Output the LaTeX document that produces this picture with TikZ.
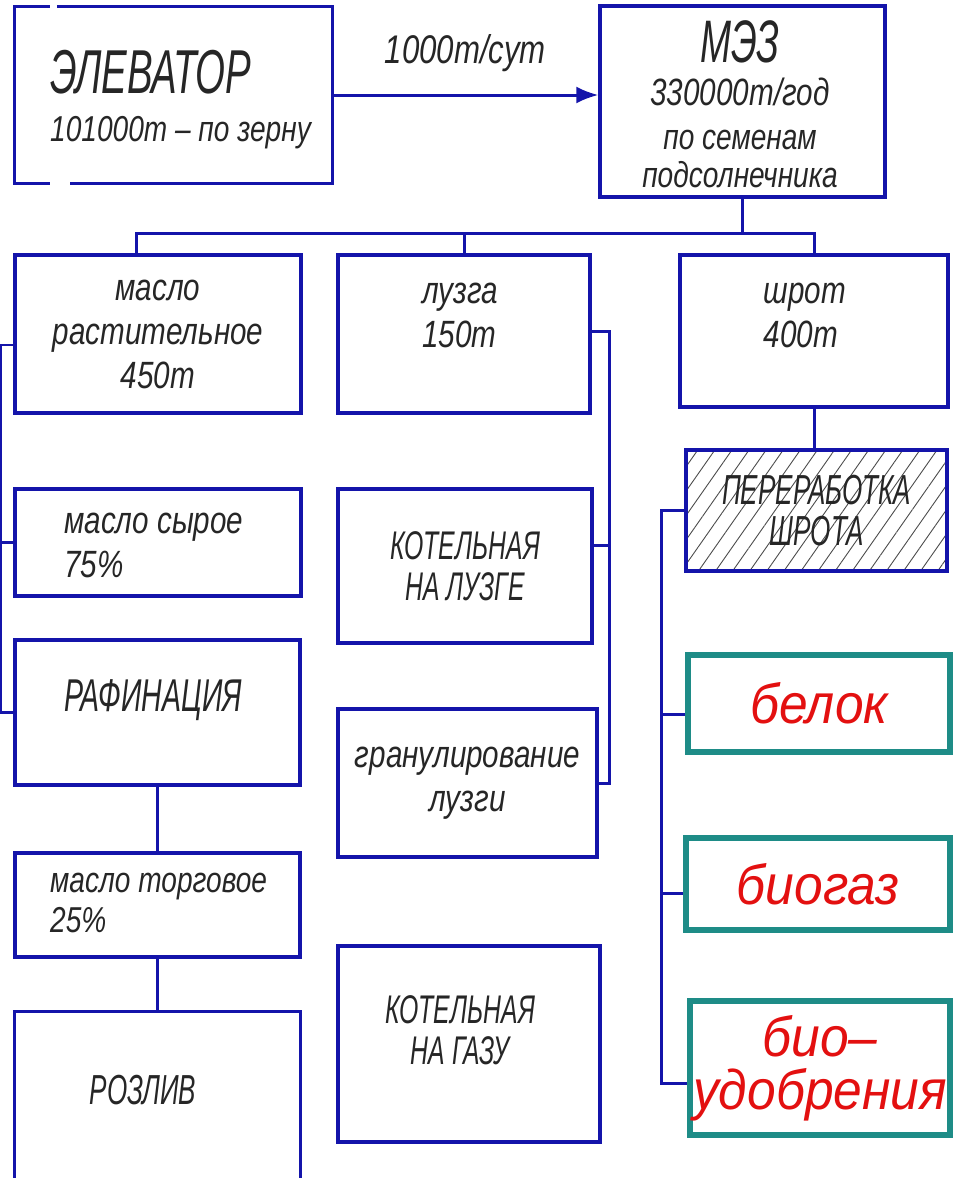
\documentclass[tikz,border=0pt]{standalone}
\usepackage{fontspec}
\usepackage{xcolor}
\usepackage{tikz}
\usetikzlibrary{positioning, arrows.meta, calc, patterns.meta}
\newfontfamily\bodyfam{Liberation Sans}[FakeStretch=0.78]
\newfontfamily\capsfam{Liberation Sans}[FakeStretch=0.62]
\newfontfamily\goalfam{Liberation Sans}[FakeStretch=0.92]
\newcommand\plainfont{\bodyfam\itshape\fontsize{38}{44}\selectfont}
\newcommand\capsfont[2]{\capsfam\itshape\fontsize{#1}{#2}\selectfont}
\newcommand\goalfont{\goalfam\itshape\fontsize{56}{53}\selectfont}
\definecolor{wire}{HTML}{1414AA}
\definecolor{product}{HTML}{1E8C87}
\definecolor{crimson}{HTML}{E31010}

\begin{document}
\begin{tikzpicture}[
    x=1pt, y=1pt,
    font=\plainfont, text=black!85,
    box/.style={draw=wire, line width=3.2pt, inner sep=0pt, align=center},
    size/.style args={#1x#2}{minimum width=#1pt, minimum height=#2pt},
    goal/.style={draw=product, line width=6pt, inner sep=0pt,
                 align=center, text=crimson, font=\goalfont},
    hatched/.style={box, pattern={Lines[angle=55, distance=14pt, line width=0.9pt]},
                    pattern color=black!70},
    txt/.style={inner sep=0pt, align=#1},
    link/.style={draw=wire, line width=3pt},
    flow/.style={link, -{Latex[length=22pt, width=17pt]}},
  ]
  \useasboundingbox (0,0) rectangle (955,-1178);

  \node[size=317x176, inner sep=0pt] (elev) at (173.5,-95) {};
  \draw[link, line width=3.2pt] ([xshift=35]elev.north west) -| (elev.south west) -- ++(35,0);
  \draw[link, line width=3.2pt] ([xshift=42]elev.north west) -| (elev.south east) -- ([xshift=55]elev.south west);
  \node[txt=left, anchor=north west] (elevt) at (50,-50) {{\capsfont{62}{62}ЭЛЕВАТОР}\\[4pt]{\fontsize{36}{44}\selectfont 101000т – по зерну}};

  \node[box, size=285x191] (mez) at (742.5,-101.5) {};
  \node[txt=center, anchor=north, font=\bodyfam\itshape\fontsize{36}{44}\selectfont] (mezt) at (740,-20) {{\capsfont{60}{60}МЭЗ}\\[-1pt]{\fontsize{38}{40}\selectfont 330000т/год}\\[0pt]по семенам\\[-6pt]подсолнечника};
  \draw[flow] (elev.east) -- (mez.west |- elev.east) node[midway, above=18pt, font=\bodyfam\itshape\fontsize{40}{44}\selectfont] {1000т/сут};

  \node[box, size=286x158] (oil) at (158,-334) {масло\\растительное\\450т};
  \node[box, size=252x158] (husk) at (464,-334) {};
  \node[txt=left] (huskt) at (460,-315) {лузга\\150т};
  \node[box, size=268x152] (meal) at (814,-331) {};
  \node[txt=left] (mealt) at (805,-315) {шрот\\400т};

  \draw[link] (mez.south) -- ++(0,-35) coordinate (fork);
  \draw[link] ([xshift=-22]oil.north) |- (fork) -| (meal.north);
  \draw[link] (husk.north) -- (husk.north |- fork);

  \node[box, size=286x107] (raw) at (158,-542.5) {};
  \node[txt=left, anchor=west] (rawt) at (64,-545) {масло сырое\\75\%};
  \node[box, size=285x145] (refin) at (157.5,-712.5) {};
  \node[txt=center, font=\capsfont{46}{46}] (refint) at (153,-700) {РАФИНАЦИЯ};
  \node[box, size=285x104] (trade) at (157.5,-905) {};
  \node[txt=left, anchor=west, font=\bodyfam\itshape\fontsize{36}{40}\selectfont] (tradet) at (50,-903) {масло торговое\\25\%};
  \node[size=285x166, inner sep=0pt] (bottle) at (157.5,-1095) {};
  \draw[link, line width=3.2pt] (bottle.south west) |- (bottle.north east) -- (bottle.south east);
  \node[txt=center, font=\capsfont{42}{42}] (bottlet) at (143,-1090) {РОЗЛИВ};

  \draw[link, line width=2.4pt] ([yshift=-11]oil.west) -- ++(-13,0) coordinate (lbus) |- (refin.west);
  \draw[link, line width=2.4pt] (raw.west) -- (raw.west -| lbus);
  \draw[link] (refin.south) -- (trade.north);
  \draw[link] (trade.south) -- (bottle.north);

  \node[box, size=254x154, font=\capsfont{40}{41}] (boilh) at (465,-566) {КОТЕЛЬНАЯ\\НА ЛУЗГЕ};
  \node[box, size=259x148] (gran) at (467.5,-783) {гранулирование\\лузги};
  \node[box, size=262x196] (gas) at (469,-1044) {};
  \node[txt=center, font=\capsfont{40}{41}] (gast) at (460,-1030) {КОТЕЛЬНАЯ\\НА ГАЗУ};

  \draw[link] ([yshift=3]husk.east) -- ++(18,0) coordinate (hbus) |- (gran.east);
  \draw[link] ([yshift=21]boilh.east) -| (hbus);

  \node[hatched, size=261x121, font=\capsfont{42}{41}] (proc) at (816.5,-510.5) {ПЕРЕРАБОТКА\\ШРОТА};
  \draw[link] (meal.south) -- (meal.south |- proc.north);

  \node[goal, size=262x97] (protein) at (819,-703.5) {белок};
  \node[goal, size=264x92] (biogas) at (818,-884) {биогаз};
  \node[goal, size=260x134] (biofert) at (820,-1068) {био–\\удобрения};

  \draw[link] (proc.west) -- ++(-24,0) coordinate (pbus) |- ([yshift=-15]biofert.west);
  \draw[link] ([yshift=-11]protein.west) -| (pbus);
  \draw[link] ([yshift=-9]biogas.west) -| (pbus);
\end{tikzpicture}
\end{document}
